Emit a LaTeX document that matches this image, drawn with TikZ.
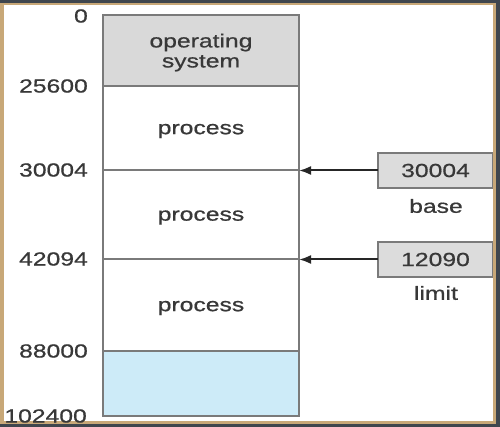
\documentclass[tikz,border=0pt]{standalone}
\usepackage{fontspec}
\setmainfont{Liberation Sans}[FakeStretch=1.3,FakeBold=0.7]
\usetikzlibrary{arrows.meta}
\definecolor{framedark}{HTML}{3F464E}
\definecolor{frametan}{HTML}{C8A878}
\definecolor{osgray}{HTML}{D9D9D9}
\definecolor{reggray}{HTML}{DCDCDC}
\definecolor{linegray}{HTML}{7A7A7A}
\definecolor{freeblue}{HTML}{CDEBF8}
\definecolor{txt}{HTML}{383838}
\tikzset{
  txtfont/.style={text=txt, font=\fontsize{19}{20}\selectfont},
  sect/.style={draw=linegray, line width=1.5pt, minimum width=196pt, inner sep=0pt, outer sep=0pt, anchor=north west},
  sectlabel/.style={inner sep=0pt, align=center, txtfont},
  addr/.style={anchor=east, inner sep=0pt, txtfont},
  reg/.style={draw=linegray, line width=1.2pt, fill=reggray, minimum width=115pt, minimum height=35pt, inner sep=0pt, outer sep=0pt, anchor=west, txtfont},
  reglabel/.style={inner sep=0pt, txtfont},
  arr/.style={draw=black!85, line width=2pt, -{Latex[length=12pt,width=9pt]}}
}
\begin{document}
\begin{tikzpicture}[x=1pt,y=-1pt]
\useasboundingbox (0,0) rectangle (500,427);
% frame
\fill[framedark] (0,0) rectangle (500,427);
\fill[frametan] (0,3) rectangle (496,424);
\fill[white] (4,5) rectangle (493,421);
% memory sections
\node[sect, fill=osgray, minimum height=71pt] (os) at (103,15) {};
\node[sect, fill=white, minimum height=84pt] (p1) at (103,86) {};
\node[sect, fill=white, minimum height=89pt] (p2) at (103,170) {};
\node[sect, fill=white, minimum height=92pt] (p3) at (103,259) {};
\node[sect, fill=freeblue, minimum height=65pt] (free) at (103,351) {};
\node[sectlabel] (ost) at ([yshift=-2pt]os.center) {operating\\system};
\node[sectlabel] (p1t) at ([yshift=-3pt]p1.center) {process};
\node[sectlabel] (p2t) at ([yshift=-3pt]p2.center) {process};
\node[sectlabel] (p3t) at ([yshift=-3pt]p3.center) {process};
% addresses
\node[addr] (a0) at (88,16) {0};
\node[addr] (a1) at (88,86) {25600};
\node[addr] (a2) at (88,170) {30004};
\node[addr] (a3) at (88,259) {42094};
\node[addr] (a4) at (88,351) {88000};
\node[addr] (a5) at (87,416) {102400};
% registers
\node[reg] (base) at (378,170.5) {30004};
\node[reglabel] (basel) at (436,206) {base};
\node[reg] (limit) at (378,259.5) {12090};
\node[reglabel] (limitl) at (436,293) {limit};
% arrows
\draw[arr] (base.west) -- (base.west -| p1.east);
\draw[arr] (limit.west) -- (limit.west -| p2.east);
% redraw right frame edge over register boxes
\fill[frametan] (493,5) rectangle (496,421);
\fill[framedark] (496,0) rectangle (500,427);
\end{tikzpicture}
\end{document}
